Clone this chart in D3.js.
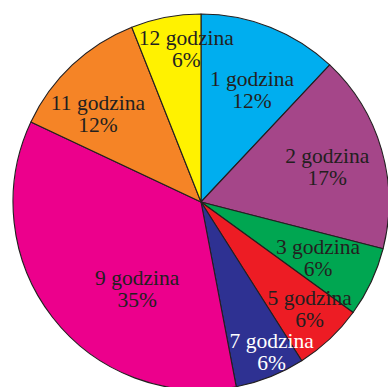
<!DOCTYPE html>
<html>
<head>
<meta charset="utf-8">
<script src="https://cdn.jsdelivr.net/npm/d3@7"></script>
<style>
  html, body { margin: 0; padding: 0; background: #ffffff; }
  svg { display: block; }
</style>
</head>
<body>
<svg id="chart" width="388" height="387"></svg>
<script>
// ---- data ----
const categories = ["1 godzina", "2 godzina", "3 godzina", "5 godzina", "7 godzina", "9 godzina", "11 godzina", "12 godzina"];
const values = [12, 17, 6, 6, 6, 35, 12, 6];
const percentLabels = ["12%", "17%", "6%", "6%", "6%", "35%", "12%", "6%"];

// ---- styling / layout (not data) ----
const colors = ["#00aeef", "#a54689", "#00a651", "#ed1c24", "#2e3192", "#ec008c", "#f58426", "#fff200"];
const textColors = ["#231f20", "#231f20", "#231f20", "#231f20", "#ffffff", "#231f20", "#231f20", "#231f20"];
// label placement: [radius fraction, angle offset in degrees from slice mid-angle]
const labelLayout = [[0.654, 2.9], [0.697, 0.7], [0.69, 0.4], [0.81, -2.3], [0.88, -3.7], [0.574, -15.9], [0.72, -6.4], [0.82, 5.3]];

const W = 388, H = 387;
const cx = 201, cy = 202, R = 188;

const svg = d3.select("#chart");
const g = svg.append("g").attr("transform", `translate(${cx},${cy})`);

const pie = d3.pie().sort(null).value(d => d.value).startAngle(0).endAngle(2 * Math.PI);
const data = categories.map((c, i) => ({ name: c, value: values[i], pct: percentLabels[i], i }));
const arcs = pie(data);

const arc = d3.arc().innerRadius(0).outerRadius(R);

g.selectAll("path.slice")
  .data(arcs)
  .join("path")
  .attr("class", "slice")
  .attr("d", arc)
  .attr("fill", d => colors[d.data.i])
  .attr("stroke", "#231f20")
  .attr("stroke-width", 1.1)
  .attr("stroke-linejoin", "round");

const labels = g.selectAll("g.label")
  .data(arcs)
  .join("g")
  .attr("class", "label")
  .attr("transform", d => {
    const [rf, dAng] = labelLayout[d.data.i];
    const a = (d.startAngle + d.endAngle) / 2 + dAng * Math.PI / 180;
    const r = rf * R;
    return `translate(${r * Math.sin(a)},${-r * Math.cos(a)})`;
  });

labels.append("text")
  .attr("text-anchor", "middle")
  .attr("y", -4)
  .attr("font-family", "'Liberation Serif', 'DejaVu Serif', serif")
  .attr("font-size", 21.5)
  .attr("fill", d => textColors[d.data.i])
  .text(d => d.data.name);

labels.append("text")
  .attr("text-anchor", "middle")
  .attr("y", 18)
  .attr("font-family", "'Liberation Serif', 'DejaVu Serif', serif")
  .attr("font-size", 21.5)
  .attr("fill", d => textColors[d.data.i])
  .text(d => d.data.pct);
</script>
</body>
</html>
